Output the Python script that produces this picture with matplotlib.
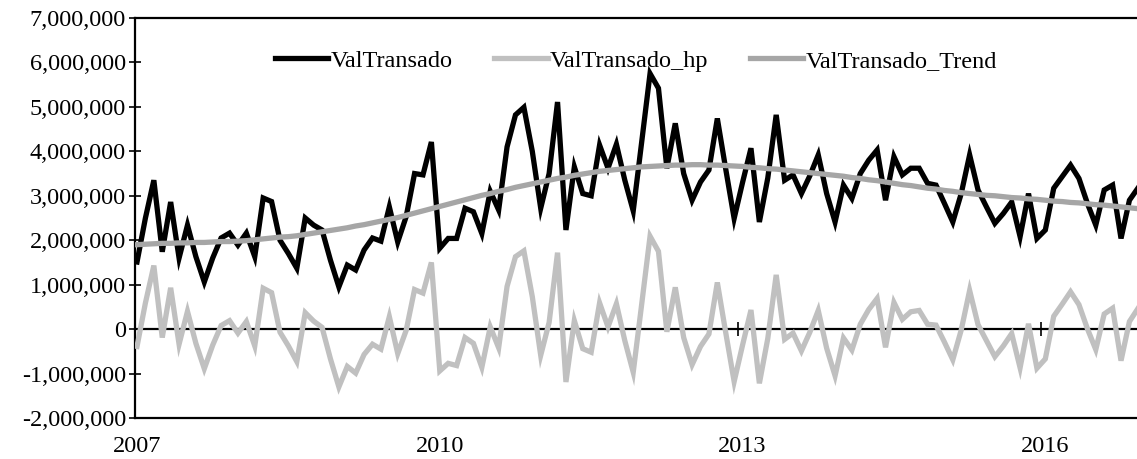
import matplotlib
matplotlib.use("Agg")
import matplotlib.pyplot as plt
from matplotlib.ticker import FuncFormatter

plt.rcParams['font.family'] = ['Liberation Serif', 'DejaVu Serif']

# monthly series starting January 2007, values in millions
val_transado = [
    1.51, 2.50, 3.35, 1.74, 2.86, 1.60, 2.34, 1.63, 1.06, 1.60, 2.05, 2.16,
    1.89, 2.16, 1.63, 2.95, 2.87, 2.00, 1.70, 1.37, 2.50, 2.34, 2.23, 1.55,
    0.95, 1.44, 1.33, 1.78, 2.05, 1.98, 2.75, 1.96, 2.53, 3.50, 3.47, 4.21,
    1.82, 2.04, 2.04, 2.72, 2.64, 2.15, 3.10, 2.68, 4.10, 4.82, 4.99, 4.00,
    2.72, 3.50, 5.11, 2.23, 3.65, 3.05, 3.00, 4.14, 3.62, 4.16, 3.35, 2.66,
    4.20, 5.75, 5.42, 3.62, 4.63, 3.50, 2.90, 3.31, 3.58, 4.74, 3.60, 2.49,
    3.30, 4.07, 2.41, 3.40, 4.82, 3.35, 3.47, 3.05, 3.45, 3.92, 3.05, 2.41,
    3.24, 2.94, 3.50, 3.80, 4.03, 2.90, 3.88, 3.47, 3.62, 3.62, 3.28, 3.24,
    2.83, 2.41, 3.05, 3.92, 3.13, 2.75, 2.38, 2.60, 2.86, 2.08, 3.05, 2.04,
    2.23, 3.17, 3.43, 3.69, 3.39, 2.83, 2.34, 3.13, 3.24, 2.04, 2.90, 3.17,
]
val_hp = [
    -0.39, 0.59, 1.43, -0.19, 0.93, -0.34, 0.40, -0.32, -0.89, -0.36, 0.08, 0.19,
    -0.09, 0.17, -0.38, 0.92, 0.82, -0.07, -0.38, -0.73, 0.37, 0.18, 0.04, -0.67,
    -1.30, -0.84, -0.99, -0.57, -0.34, -0.45, 0.28, -0.55, -0.03, 0.89, 0.81, 1.50,
    -0.94, -0.77, -0.82, -0.19, -0.32, -0.86, 0.05, -0.42, 0.96, 1.63, 1.76, 0.73,
    -0.59, 0.15, 1.72, -1.19, 0.19, -0.44, -0.52, 0.59, 0.05, 0.57, -0.26, -0.97,
    0.55, 2.09, 1.75, -0.06, 0.94, -0.19, -0.80, -0.39, -0.11, 1.05, -0.08, -1.18,
    -0.36, 0.43, -1.22, -0.21, 1.22, -0.23, -0.09, -0.49, -0.07, 0.42, -0.43, -1.05,
    -0.20, -0.47, 0.11, 0.44, 0.69, -0.41, 0.60, 0.22, 0.39, 0.42, 0.11, 0.09,
    -0.29, -0.69, -0.02, 0.87, 0.10, -0.26, -0.62, -0.38, -0.10, -0.87, 0.12, -0.88,
    -0.67, 0.29, 0.56, 0.84, 0.55, 0.01, -0.46, 0.34, 0.47, -0.71, 0.17, 0.46,
]
val_trend = [
    1.90, 1.91, 1.92, 1.93, 1.93, 1.94, 1.94, 1.95, 1.95, 1.96, 1.97, 1.97,
    1.98, 1.99, 2.01, 2.03, 2.05, 2.07, 2.08, 2.10, 2.13, 2.16, 2.19, 2.22,
    2.25, 2.28, 2.32, 2.35, 2.39, 2.43, 2.47, 2.51, 2.56, 2.61, 2.66, 2.71,
    2.76, 2.81, 2.86, 2.91, 2.96, 3.01, 3.05, 3.10, 3.14, 3.19, 3.23, 3.27,
    3.31, 3.35, 3.39, 3.42, 3.46, 3.49, 3.52, 3.55, 3.57, 3.59, 3.61, 3.63,
    3.65, 3.66, 3.67, 3.68, 3.69, 3.69, 3.70, 3.70, 3.69, 3.69, 3.68, 3.67,
    3.66, 3.64, 3.63, 3.61, 3.60, 3.58, 3.56, 3.54, 3.52, 3.50, 3.48, 3.46,
    3.44, 3.41, 3.39, 3.36, 3.34, 3.31, 3.28, 3.25, 3.23, 3.20, 3.17, 3.15,
    3.12, 3.10, 3.07, 3.05, 3.03, 3.01, 3.00, 2.98, 2.96, 2.95, 2.93, 2.92,
    2.90, 2.88, 2.87, 2.85, 2.84, 2.82, 2.80, 2.79, 2.77, 2.75, 2.73, 2.71,
]
year_labels = ['2007', '2010', '2013', '2016']
year_pos = [0, 36, 72, 108]
zero_ticks = [35.5, 71.5, 107.5]

months = list(range(len(val_transado)))
m = 1e6

fig = plt.figure(figsize=(11.37, 4.59), dpi=100)
ax = fig.add_axes([135 / 1137, 41 / 459, 1002 / 1137, 400 / 459])

ax.plot(months, [v * m for v in val_transado], color='black', lw=3.8,
        solid_joinstyle='miter', label='ValTransado', zorder=3)
ax.plot(months, [v * m for v in val_hp], color='#c0c0c0', lw=3.8,
        solid_joinstyle='miter', label='ValTransado_hp', zorder=3)
ax.plot(months, [v * m for v in val_trend], color='#a6a6a6', lw=3.8,
        label='ValTransado_Trend', zorder=4)

ax.set_ylim(-2e6, 7e6)
ax.set_yticks([i * 1e6 for i in range(-2, 8)])
ax.yaxis.set_major_formatter(FuncFormatter(lambda v, p: f'{v:,.0f}'))
ax.set_xlim(-0.24, 118.9)
ax.set_xticks(year_pos)
ax.set_xticklabels(year_labels)

ax.tick_params(axis='y', direction='inout', length=9, width=1.2,
               labelsize=17.5, pad=2)
ax.tick_params(axis='x', length=0, labelsize=17.5, pad=13)
ax.spines['right'].set_visible(False)
for s in ['left', 'top', 'bottom']:
    ax.spines[s].set_linewidth(1.6)

# horizontal category axis crossing at zero
zax = ax.secondary_xaxis(0, transform=ax.transData)
zax.set_xticks(zero_ticks)
zax.tick_params(direction='inout', length=10, width=1.2, labelbottom=False)
zax.spines['bottom'].set_linewidth(1.6)

ax.legend(loc='upper center', bbox_to_anchor=(0.5, 0.975), ncol=3,
          frameon=False, fontsize=17.5, handlelength=2.2, handletextpad=0.1,
          columnspacing=1.7)

fig.savefig('out.png', dpi=100)
